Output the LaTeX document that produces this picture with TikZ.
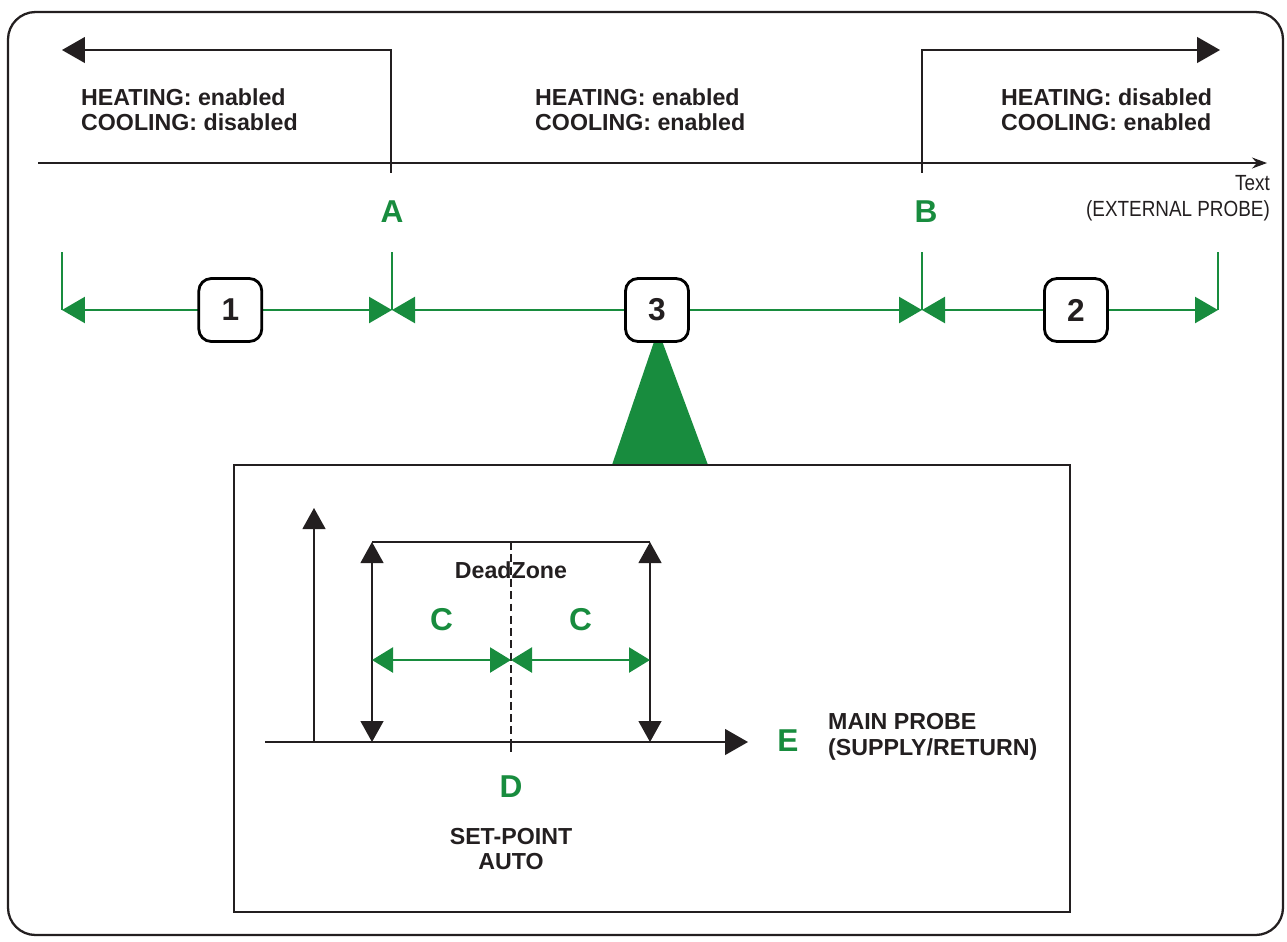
\documentclass[tikz,border=0pt]{standalone}
\usepackage{fontspec}
\setmainfont{Liberation Sans}
\newfontfamily\narrowfont[FakeStretch = 0.86]{Liberation Sans}
\usetikzlibrary{arrows.meta}
\definecolor{mygreen}{RGB}{24, 140, 62}
\definecolor{mydark}{RGB}{35, 31, 32}

\begin{document}
\begin{tikzpicture}[
    x = 0.02cm, y = -0.02cm,
    d0/.style = {line width = 0.7pt, draw = mydark},
    tip/.style = {-{Triangle[length = 0.46cm, width = 0.52cm]}},
    tip2/.style = {{Triangle[length = 0.42cm, width = 0.46cm]}-{Triangle[length = 0.42cm, width = 0.46cm]}},
    g0/.style = {line width = 1.4pt, draw = mygreen},
    g1/.style = {g0, {Triangle[length = 0.46cm, width = 0.52cm]}-{Triangle[length = 0.46cm, width = 0.52cm]}},
    g2/.style = {g0, {Triangle[length = 0.42cm, width = 0.5cm]}-{Triangle[length = 0.42cm, width = 0.5cm]}},
    numbox/.style = {draw = black, line width = 1.6pt, fill = white, rounded corners = 0.25cm, minimum size = 1.26cm, inner sep = 0pt, font = \fontsize{18}{18}\selectfont\bfseries, text = mydark},
    lbl/.style = {font = \fontsize{13.2}{14}\selectfont\bfseries, text = mydark},
    glbl/.style = {font = \fontsize{18}{18}\selectfont\bfseries, text = mygreen},
]
\useasboundingbox (0,0) rectangle (1287,941);

% outer frame
\draw[line width = 1.3pt, mydark, rounded corners = 0.55cm] (8,12) rectangle (1283,935);

% external probe axis
\coordinate (pA) at (391,163);
\coordinate (pB) at (922,163);
\draw[d0, -{Stealth[length = 0.3cm, width = 0.22cm]}] (38,163) -- (1267,163);
\draw[d0] (pA) -- +(0,10);
\draw[d0] (pB) -- +(0,10);
\draw[d0, tip] (pA) -- (391,50) -- (62,50);
\draw[d0, tip] (pB) -- (922,50) -- (1220,50);

\node[lbl, anchor = west, align = left] (hc1) at (75,110) {HEATING: enabled\\COOLING: disabled};
\node[lbl, anchor = west, align = left] (hc3) at (529,110) {HEATING: enabled\\COOLING: enabled};
\node[lbl, anchor = west, align = left] (hc2) at (995,110) {HEATING: disabled\\COOLING: enabled};
\node[glbl] (A) at (392,212) {A};
\node[glbl] (B) at (926,212) {B};
\node[anchor = east, align = right, text = mydark, font = \fontsize{12.5}{14.7}\narrowfont] (text) at (1276,198) {Text\\(EXTERNAL PROBE)};

% zones
\coordinate (z0) at (62,310);
\coordinate (zA) at (392,310);
\coordinate (zB) at (922,310);
\coordinate (z1) at (1218,310);
\draw[g0] (62,252) -- (z0);
\draw[g0] (392,252) -- (zA);
\draw[g0] (922,252) -- (zB);
\draw[g0] (1218,252) -- (z1);
\fill[mygreen] (658,330) -- (612,465) -- (708,465) -- cycle;
\draw[g1] (z0) -- node[numbox, pos = 0.51] (n1) {1} (zA);
\draw[g1] (zA) -- node[numbox] (n3) {3} (zB);
\draw[g1] (zB) -- node[numbox, pos = 0.52] (n2) {2} (z1);

% main probe box
\draw[line width = 1.2pt, mydark] (234,465) rectangle (1070,912);
\coordinate (o) at (314,742);
\coordinate (cl) at (372,742);
\coordinate (cr) at (650,742);
\coordinate (sp) at (511,742);
\draw[d0, tip] (265,742) -- (748,742);
\draw[d0, -{Triangle[length = 0.42cm, width = 0.46cm]}] (o) -- (314,508);
\draw[d0, tip2] (cl) -- (372,542);
\draw[d0, tip2] (cr) -- (650,542);
\draw[d0] (372,542) -- (650,542);
\draw[d0, dash pattern = on 4.5pt off 2.5pt] (511,542) -- (sp);
\draw[d0, line width = 1.2pt] (sp) -- +(0,10);
\draw[g2] (372,660) -- node[glbl, yshift = 0.8cm] (c1) {C} (511,660);
\draw[g2] (511,660) -- node[glbl, yshift = 0.8cm] (c2) {C} (650,660);

\node[lbl] (dz) at (511,570) {DeadZone};
\node[glbl] (D) at (511,787) {D};
\node[lbl, align = center, font = \fontsize{13.2}{14.7}\selectfont\bfseries] (setp) at (511,849) {SET-POINT\\AUTO};
\node[glbl] (E) at (788,741) {E};
\node[lbl, anchor = west, align = left, font = \fontsize{13.2}{14.7}\selectfont\bfseries] (mp) at (822,737) {MAIN PROBE\\(SUPPLY/RETURN)};
\end{tikzpicture}
\end{document}
